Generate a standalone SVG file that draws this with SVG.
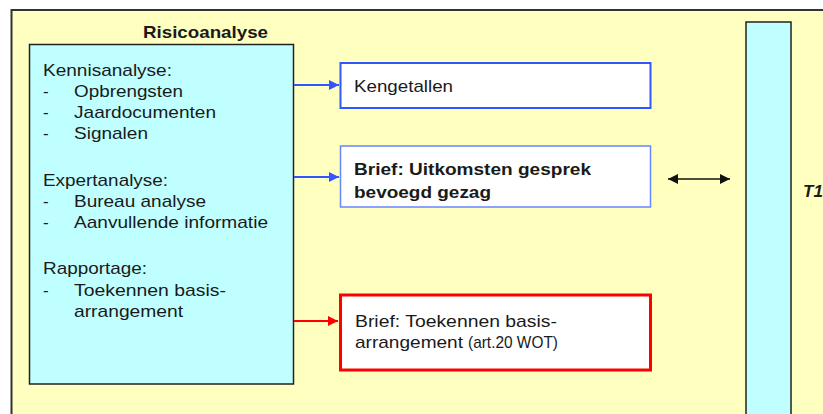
<svg xmlns="http://www.w3.org/2000/svg" width="823" height="414" viewBox="0 0 823 414">
<style>
text{font-family:"Liberation Sans",Arial,sans-serif;fill:#1a1a1a;font-size:17px}
.b{font-weight:bold}
.box{fill:#fff}
.cy{fill:#c0ffff;stroke:#222;stroke-width:1.5}
</style>
<defs>
<marker id="ab" viewBox="0 0 10 10" refX="10" refY="5" markerWidth="10" markerHeight="10" markerUnits="userSpaceOnUse" orient="auto"><path d="M0,0L10,5L0,10z" fill="#3355ff"/></marker>
<marker id="ar" viewBox="0 0 10 10" refX="10" refY="5" markerWidth="10" markerHeight="10" markerUnits="userSpaceOnUse" orient="auto"><path d="M0,0L10,5L0,10z" fill="#ff0000"/></marker>
<marker id="ak" viewBox="0 0 10 10" refX="10" refY="5" markerWidth="10" markerHeight="10" markerUnits="userSpaceOnUse" orient="auto-start-reverse"><path d="M0,0L10,5L0,10z" fill="#111"/></marker>
</defs>
<rect width="823" height="414" fill="#fff"/>
<rect id="bg" x="11.5" y="10" width="820" height="420" fill="#ffffc0" stroke="#333" stroke-width="2"/>
<g id="risicoanalyse">
<text class="b" x="143" y="38" textLength="125" lengthAdjust="spacingAndGlyphs">Risicoanalyse</text>
<rect class="cy" x="29.5" y="44.5" width="264" height="339.5"/>
<text x="43" y="76" textLength="129" lengthAdjust="spacingAndGlyphs">Kennisanalyse:</text>
<text x="43" y="97">-</text><text x="74" y="97" textLength="109" lengthAdjust="spacingAndGlyphs">Opbrengsten</text>
<text x="43" y="118">-</text><text x="74" y="118" textLength="142" lengthAdjust="spacingAndGlyphs">Jaardocumenten</text>
<text x="43" y="139">-</text><text x="74" y="139" textLength="74" lengthAdjust="spacingAndGlyphs">Signalen</text>
<text x="43" y="186" textLength="125" lengthAdjust="spacingAndGlyphs">Expertanalyse:</text>
<text x="43" y="207">-</text><text x="74" y="207" textLength="132" lengthAdjust="spacingAndGlyphs">Bureau analyse</text>
<text x="43" y="228">-</text><text x="74" y="228" textLength="194" lengthAdjust="spacingAndGlyphs">Aanvullende informatie</text>
<text x="43" y="274" textLength="104" lengthAdjust="spacingAndGlyphs">Rapportage:</text>
<text x="43" y="296">-</text><text x="74" y="296" textLength="152" lengthAdjust="spacingAndGlyphs">Toekennen basis-</text>
<text x="74" y="317" textLength="109" lengthAdjust="spacingAndGlyphs">arrangement</text>
</g>
<g id="kengetallen">
<rect class="box" x="340.5" y="63" width="310" height="45" stroke="#3355ff" stroke-width="2"/>
<text x="354" y="92" textLength="99" lengthAdjust="spacingAndGlyphs">Kengetallen</text>
</g>
<g id="brief-uitkomsten">
<rect class="box" x="340.5" y="146" width="310" height="61" stroke="#6688ff" stroke-width="1.5"/>
<text class="b" x="354" y="175" textLength="237" lengthAdjust="spacingAndGlyphs">Brief: Uitkomsten gesprek</text>
<text class="b" x="354" y="198" textLength="137" lengthAdjust="spacingAndGlyphs">bevoegd gezag</text>
</g>
<g id="brief-toekennen">
<rect class="box" x="340.5" y="295" width="310" height="75" stroke="#ff0000" stroke-width="3"/>
<text x="355" y="327" textLength="202" lengthAdjust="spacingAndGlyphs">Brief: Toekennen basis-</text>
<text x="355" y="348" textLength="108" lengthAdjust="spacingAndGlyphs">arrangement</text>
<text x="468" y="348" font-size="14" textLength="90" lengthAdjust="spacingAndGlyphs">(art.20 WOT)</text>
</g>
<g id="t1">
<rect class="cy" x="746" y="22" width="45" height="400"/>
<text class="b" x="803" y="197" font-style="italic">T1</text>
</g>
<g id="connectors" fill="none" stroke-width="2">
<line x1="294" y1="85" x2="339" y2="85" stroke="#3355ff" marker-end="url(#ab)"/>
<line x1="294" y1="177" x2="339" y2="177" stroke="#3355ff" marker-end="url(#ab)"/>
<line x1="294" y1="321" x2="338" y2="321" stroke="#ff0000" marker-end="url(#ar)"/>
<line x1="668" y1="179" x2="730" y2="179" stroke="#111" stroke-width="1.5" marker-start="url(#ak)" marker-end="url(#ak)"/>
</g>
</svg>
